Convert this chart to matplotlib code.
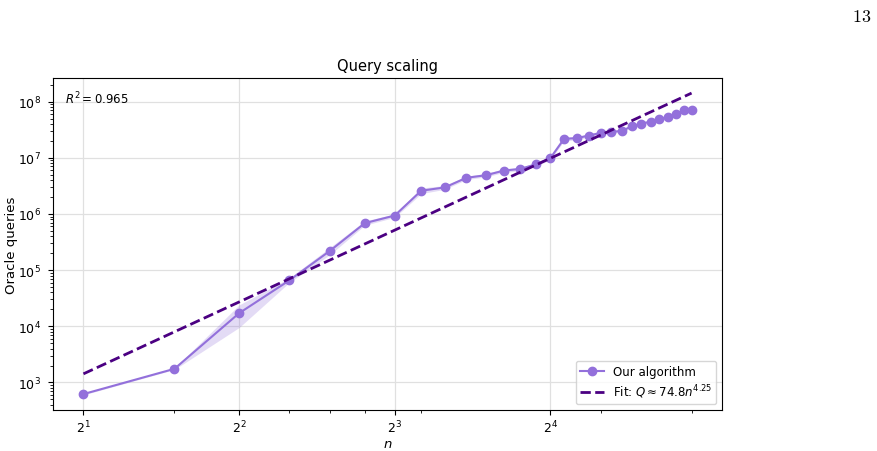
import numpy as np
import matplotlib
matplotlib.use("Agg")
import matplotlib.pyplot as plt
from matplotlib.ticker import LogLocator, NullFormatter, LogFormatterSciNotation, FixedLocator

n_vals = [2, 3, 4, 5, 6, 7, 8, 9, 10, 11, 12, 13, 14, 15, 16,
          17, 18, 19, 20, 21, 22, 23, 24, 25, 26, 27, 28, 29, 30]
queries = [621, 1750, 17100, 65500, 222000, 686000, 938000, 2.59e6, 2.97e6,
           4.40e6, 4.89e6, 5.91e6, 6.34e6, 7.64e6, 9.9e6,
           2.17e7, 2.24e7, 2.49e7, 2.77e7, 2.89e7, 3.01e7, 3.65e7, 4.06e7,
           4.40e7, 4.84e7, 5.32e7, 5.93e7, 6.98e7, 7.16e7]
q_low = [600, 1700, 9500, 60000, 190000, 630000, 870000, 2.3e6, 2.75e6,
         4.1e6, 4.55e6, 5.5e6, 5.9e6, 7.1e6, 9.2e6,
         2.0e7, 2.08e7, 2.32e7, 2.6e7, 2.72e7, 2.83e7, 3.45e7, 3.85e7,
         4.18e7, 4.6e7, 5.05e7, 5.65e7, 6.6e7, 6.8e7]
q_high = [640, 1800, 24000, 72000, 255000, 750000, 1.0e6, 2.9e6, 3.2e6,
          4.7e6, 5.25e6, 6.35e6, 6.8e6, 8.2e6, 1.06e7,
          2.35e7, 2.4e7, 2.68e7, 2.95e7, 3.07e7, 3.2e7, 3.85e7, 4.28e7,
          4.62e7, 5.08e7, 5.6e7, 6.22e7, 7.35e7, 7.52e7]
x_major_ticks = [2, 4, 8, 16]
fit_coef = 74.8
fit_exp = 4.25
r_squared = 0.965

main_color = "#9370DB"
fit_color = "#4B0082"

fig = plt.figure(figsize=(8.78, 4.52), dpi=100)
ax = fig.add_axes([0.0604, 0.0907, 0.7619, 0.7345])

n_arr = np.array(n_vals, dtype=float)
ax.fill_between(n_arr, q_low, q_high, color=main_color, alpha=0.25, linewidth=0)
ax.plot(n_arr, queries, '-o', color=main_color, lw=1.5, ms=6, label="Our algorithm")
ax.plot(n_arr, fit_coef * n_arr ** fit_exp, '--', color=fit_color, lw=2,
        label=r"Fit: $Q \approx 74.8n^{4.25}$")

ax.set_xscale('log')
ax.set_yscale('log')
ax.xaxis.set_major_locator(FixedLocator(x_major_ticks))
ax.xaxis.set_major_formatter(LogFormatterSciNotation(base=2))
ax.xaxis.set_minor_locator(LogLocator(base=10, subs=np.arange(2, 10)))
ax.xaxis.set_minor_formatter(NullFormatter())

ax.tick_params(axis='both', which='major', labelsize=9)
ax.tick_params(axis='y', which='major', pad=5.5)
ax.tick_params(axis='x', which='major', pad=2.5)

ax.grid(True, which='major', color='#e0e0e0', lw=0.9)
ax.set_axisbelow(True)

ax.set_xlabel(r"$n$", fontsize=9.5, labelpad=1.5)
ax.set_ylabel("Oracle queries", fontsize=9.5)
ax.yaxis.set_label_coords(-0.053, 0.5)
ax.set_title("Query scaling", fontsize=10.5)
ax.text(0.018, 0.965, r"$R^2 = %.3f$" % r_squared, transform=ax.transAxes,
        fontsize=8.5, va='top', ha='left')
ax.legend(loc='lower right', fontsize=8.5, borderpad=0.35, labelspacing=0.35)

fig.text(0.992, 0.982, r"$\mathrm{13}$", fontsize=13, ha='right', va='top',
         math_fontfamily='cm')

fig.savefig("out.png", dpi=100)
